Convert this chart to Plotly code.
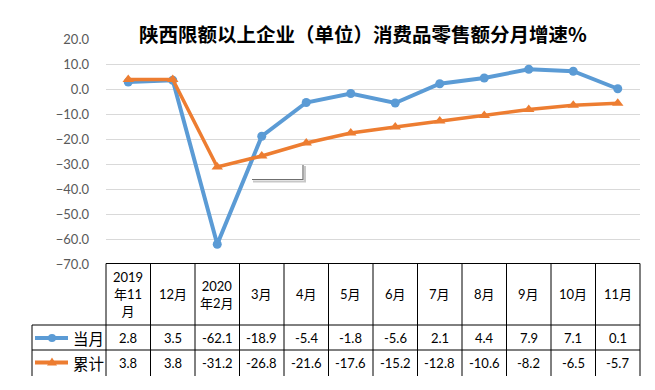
import plotly.graph_objects as go

categories = ["2019年11月", "12月", "2020年2月", "3月", "4月", "5月", "6月", "7月", "8月", "9月", "10月", "11月"]
header_labels = ["2019<br>年11<br>月", "12月", "2020<br>年2月", "3月", "4月", "5月", "6月", "7月", "8月", "9月", "10月", "11月"]
monthly = [2.8, 3.5, -62.1, -18.9, -5.4, -1.8, -5.6, 2.1, 4.4, 7.9, 7.1, 0.1]
cumulative = [3.8, 3.8, -31.2, -26.8, -21.6, -17.6, -15.2, -12.8, -10.6, -8.2, -6.5, -5.7]
series_names = ["当月", "累计"]
y_ticks = [20, 10, 0, -10, -20, -30, -40, -50, -60, -70]
title = "陕西限额以上企业（单位）消费品零售额分月增速%"

BLUE = "#5B9BD5"
ORANGE = "#ED7D31"

# page offset from default body margin
O = 8
W, H = 655 - O, 390 - O
L, R, T, B = 106, 640, 39, 264  # plot area in page pixels

def px(x):
    return (x - L) / (R - L)

def py(y):
    return (B - y) / (B - T)

xs = list(range(len(categories)))

fig = go.Figure()
fig.add_trace(go.Scatter(x=xs, y=monthly, mode="lines+markers", name=series_names[0],
                         line=dict(color=BLUE, width=4),
                         marker=dict(symbol="circle", size=9, color=BLUE)))
fig.add_trace(go.Scatter(x=xs, y=cumulative, mode="lines+markers", name=series_names[1],
                         line=dict(color=ORANGE, width=3.5),
                         marker=dict(symbol="triangle-up", size=10, color=ORANGE)))

shapes = []
annotations = []
black = dict(color="black", width=1)

n = len(categories)
colw = (R - L) / n
# table grid
shapes.append(dict(type="line", xref="paper", yref="paper", x0=px(L), x1=px(R), y0=py(263.5), y1=py(263.5), line=black))
for yy in [325, 350]:
    shapes.append(dict(type="line", xref="paper", yref="paper", x0=px(32), x1=px(R), y0=py(yy), y1=py(yy), line=black))
for i in range(n + 1):
    xx = L + colw * i
    shapes.append(dict(type="line", xref="paper", yref="paper", x0=px(xx), x1=px(xx), y0=py(263.5), y1=py(376), line=black))
shapes.append(dict(type="line", xref="paper", yref="paper", x0=px(32), x1=px(32), y0=py(325), y1=py(376), line=black))

tfont = dict(family="Lato, Noto Sans CJK SC, sans-serif", size=13, color="black")
for i in range(n):
    cx = px(L + colw * (i + 0.5))
    annotations.append(dict(x=cx, y=py(294), xref="paper", yref="paper", text=header_labels[i],
                            showarrow=False, xanchor="center", yanchor="middle", font=tfont))
    annotations.append(dict(x=cx, y=py(338), xref="paper", yref="paper", text=f"{monthly[i]:.1f}",
                            showarrow=False, xanchor="center", yanchor="middle", font=tfont))
    annotations.append(dict(x=cx, y=py(362.5), xref="paper", yref="paper", text=f"{cumulative[i]:.1f}",
                            showarrow=False, xanchor="center", yanchor="middle", font=tfont))

# legend keys in table
for yy, col, name, sym in [(338, BLUE, series_names[0], "c"), (362.5, ORANGE, series_names[1], "t")]:
    shapes.append(dict(type="line", xref="paper", yref="paper", x0=px(35), x1=px(68), y0=py(yy), y1=py(yy),
                       line=dict(color=col, width=4)))
    if sym == "c":
        shapes.append(dict(type="circle", xref="paper", yref="paper", x0=px(48), x1=px(56), y0=py(yy - 4), y1=py(yy + 4),
                           fillcolor=col, line=dict(color=col, width=0)))
    else:
        path = f"M {px(47)},{py(yy+3)} L {px(57)},{py(yy+3)} L {px(52)},{py(yy-5)} Z"
        shapes.append(dict(type="path", xref="paper", yref="paper", path=path, fillcolor=col, line=dict(color=col, width=0)))
    annotations.append(dict(x=px(71), y=py(yy), xref="paper", yref="paper", text=name, showarrow=False,
                            xanchor="left", yanchor="middle",
                            font=dict(family="Noto Sans CJK SC, sans-serif", size=15.5, color="black")))

# stray callout artifact
shapes.append(dict(type="path", xref="paper", yref="paper",
                   path=f"M {px(253)},{py(181.5)} L {px(305)},{py(181.5)} L {px(305)},{py(166)}",
                   line=dict(color="#c8c8c8", width=2)))
shapes.append(dict(type="path", xref="paper", yref="paper",
                   path=f"M {px(252)},{py(179.5)} L {px(303)},{py(179.5)} L {px(303)},{py(165)}",
                   line=dict(color="#6f6f6f", width=1.2)))

annotations.append(dict(x=px(363), y=py(33), xref="paper", yref="paper", text="<b>" + title + "</b>",
                        showarrow=False, xanchor="center", yanchor="middle",
                        font=dict(family="Noto Sans CJK SC, sans-serif", size=19.5, color="black")))

fig.update_layout(
    width=W, height=H,
    margin=dict(l=L - O, r=W - (R - O), t=T - O, b=H - (B - O), pad=0),
    plot_bgcolor="white", paper_bgcolor="white",
    showlegend=False,
    shapes=shapes, annotations=annotations,
    xaxis=dict(range=[-0.5, n - 0.5], showgrid=False, zeroline=False, showticklabels=False, showline=False,
               fixedrange=True),
    yaxis=dict(range=[-70, 20], tickvals=y_ticks, tickformat=".1f", showgrid=True, gridcolor="#d9d9d9",
               gridwidth=1, zeroline=False, showline=False, ticks="", ticklabelstandoff=16,
               tickfont=dict(family="Lato, sans-serif", size=13, color="#595959")),
)

fig.write_html("out.html")
